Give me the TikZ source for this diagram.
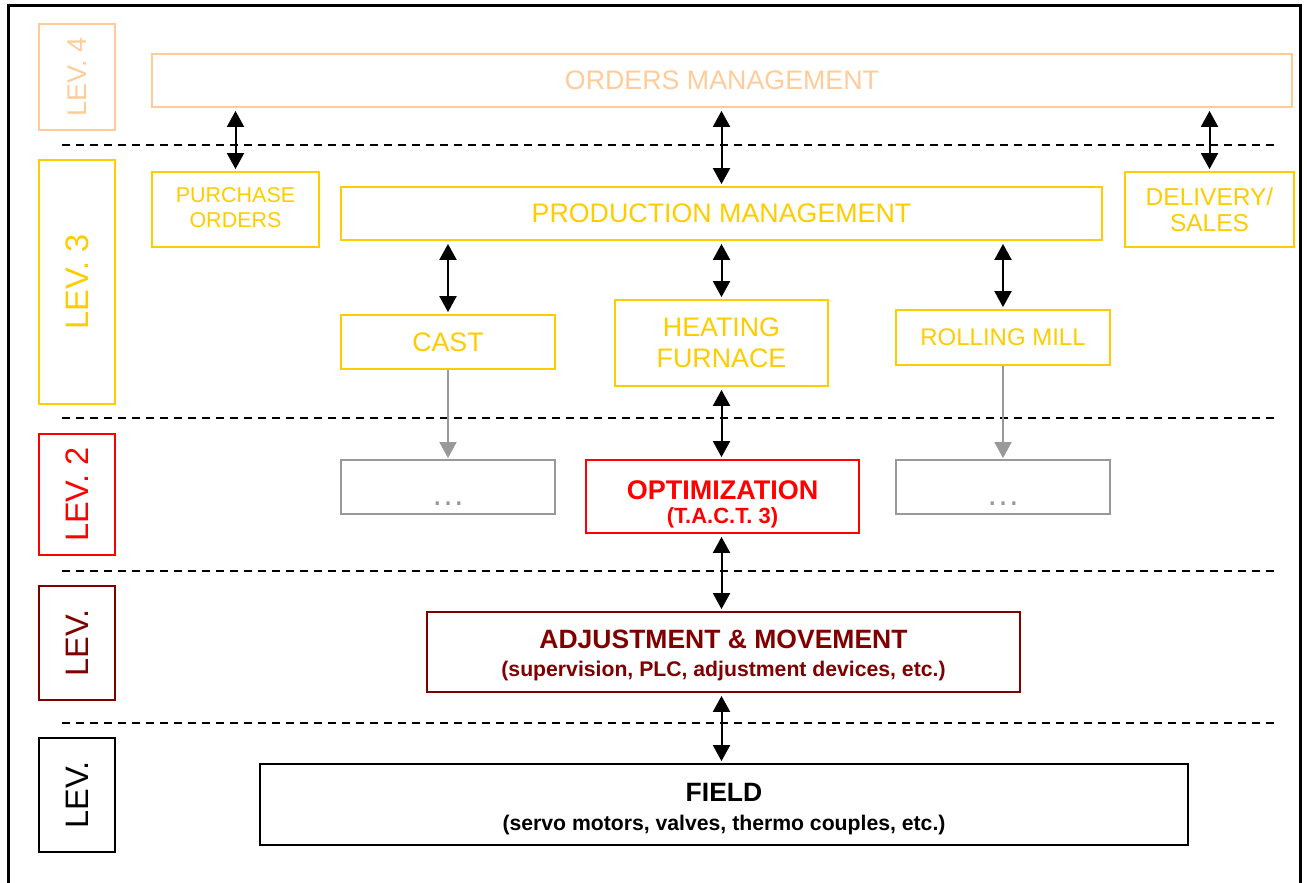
\documentclass[tikz,border=0pt]{standalone}
\usepackage{fontspec}
\setmainfont{Liberation Sans}
\usetikzlibrary{arrows.meta}
\definecolor{peach}{RGB}{255,204,153}
\definecolor{gold}{RGB}{255,204,0}
\definecolor{optred}{RGB}{255,0,0}
\definecolor{darkred}{RGB}{128,0,0}
\definecolor{midgray}{RGB}{153,153,153}
\tikzset{
  box/.style={draw, line width=1.8pt, rectangle, inner sep=0pt, align=center},
  levbox/.style={box, rotate=90, minimum height=76pt, font=\fontsize{32.5}{38}\selectfont},
  dbl/.style={line width=2pt, black, {Triangle[length=16pt,width=17pt]}-{Triangle[length=16pt,width=17pt]}, shorten <=3pt, shorten >=2pt},
  grayarrow/.style={line width=1.8pt, midgray, -{Triangle[length=16pt,width=17pt]}, shorten >=1pt},
  sep/.style={dashed, dash pattern=on 8pt off 6pt, line width=1.6pt},
  big/.style={font=\fontsize{26.8}{31}\selectfont},
  mid/.style={font=\fontsize{24}{27}\selectfont},
  dotsbox/.style={box, draw=midgray, text=midgray, minimum width=214pt, minimum height=54pt, font=\fontsize{34}{40}\selectfont},
}
\begin{document}
\begin{tikzpicture}[x=1pt, y=-1pt]
\useasboundingbox (0,0) rectangle (1307,883);
% frame
\draw[line width=2.5pt] (8.5,890) -- (8.5,5.5) -- (1300.5,5.5) -- (1300.5,890);
% separators
\foreach \yy in {145,418,571,723} \draw[sep] (62,\yy) -- (1274,\yy);
% level labels
\node[levbox, draw=peach, text=peach, minimum width=106pt, font=\fontsize{27}{31}\selectfont] (lev4) at (77,77) {LEV. 4};
\node[levbox, draw=gold, text=gold, minimum width=244pt] (lev3) at (77,282) {LEV. 3};
\node[levbox, draw=optred, text=optred, minimum width=121pt] (lev2) at (77,494.5) {LEV. 2};
\node[levbox, draw=darkred, text=darkred, minimum width=114pt] (lev1) at (77,643) {LEV.};
\node[levbox, draw=black, text=black, minimum width=114pt] (lev0) at (77,795) {LEV.};
% level 4
\node[box, big, draw=peach, text=peach, minimum width=1140pt, minimum height=53pt] (orders) at (722,80.5) {ORDERS MANAGEMENT};
% level 3
\node[box, draw=gold, text=gold, minimum width=167pt, minimum height=75pt, font=\fontsize{21.5}{25}\selectfont] (po) at (235.5,209.5) {PURCHASE\\ORDERS\rule[-4pt]{0pt}{0pt}};
\node[box, big, draw=gold, text=gold, minimum width=761pt, minimum height=53pt] (prod) at (721.5,213.5) {PRODUCTION MANAGEMENT};
\node[box, draw=gold, text=gold, minimum width=169pt, minimum height=75pt, font=\fontsize{24.5}{26}\selectfont] (del) at (1209.5,209.5) {DELIVERY/\\SALES};
\node[box, big, draw=gold, text=gold, minimum width=214pt, minimum height=54pt] (cast) at (448,342) {CAST};
\node[box, big, draw=gold, text=gold, minimum width=213pt, minimum height=86pt] (heat) at (721.5,343) {HEATING\\FURNACE};
\node[box, mid, draw=gold, text=gold, minimum width=214pt, minimum height=55pt] (roll) at (1003,337.5) {ROLLING MILL};
% level 2
\node[dotsbox] (dotsa) at (448,487) {\strut\raisebox{-10pt}{…}};
\node[box, draw=optred, text=optred, minimum width=273pt, minimum height=73pt, font=\fontsize{27}{24}\selectfont\bfseries] (opt) at (722.5,496.5) {\rule{0pt}{34pt}OPTIMIZATION\\{\fontsize{22}{24}\selectfont(T.A.C.T. 3)}};
\node[dotsbox] (dotsb) at (1003,487) {\strut\raisebox{-10pt}{…}};
% level 1
\node[box, draw=darkred, text=darkred, minimum width=593pt, minimum height=80pt, font=\fontsize{26.5}{28}\selectfont\bfseries] (adj) at (723.5,652) {\rule{0pt}{26pt}ADJUSTMENT \& MOVEMENT\\{\fontsize{21.2}{28}\selectfont(supervision, PLC, adjustment devices, etc.)}};
% level 0
\node[box, draw=black, text=black, minimum width=928pt, minimum height=81pt, font=\fontsize{26.5}{29}\selectfont\bfseries] (field) at (724,804.5) {\rule{0pt}{27.5pt}FIELD\\{\fontsize{21.2}{29}\selectfont(servo motors, valves, thermo couples, etc.)}};
% connectors
\draw[dbl] (orders.south -| po.north) -- (po.north);
\draw[dbl] (orders.south -| prod.north) -- (prod.north);
\draw[dbl] (orders.south -| del.north) -- (del.north);
\draw[dbl] (prod.south -| cast.north) -- (cast.north);
\draw[dbl] (prod.south -| heat.north) -- (heat.north);
\draw[dbl] (prod.south -| roll.north) -- (roll.north);
\draw[grayarrow] (cast.south) -- (dotsa.north);
\draw[grayarrow] (roll.south) -- (dotsb.north);
\draw[dbl] (heat.south) -- (heat.south |- opt.north);
\draw[dbl] (opt.south -| heat.south) -- (heat.south |- adj.north);
\draw[dbl] (adj.south -| heat.south) -- (heat.south |- field.north);
\end{tikzpicture}
\end{document}
